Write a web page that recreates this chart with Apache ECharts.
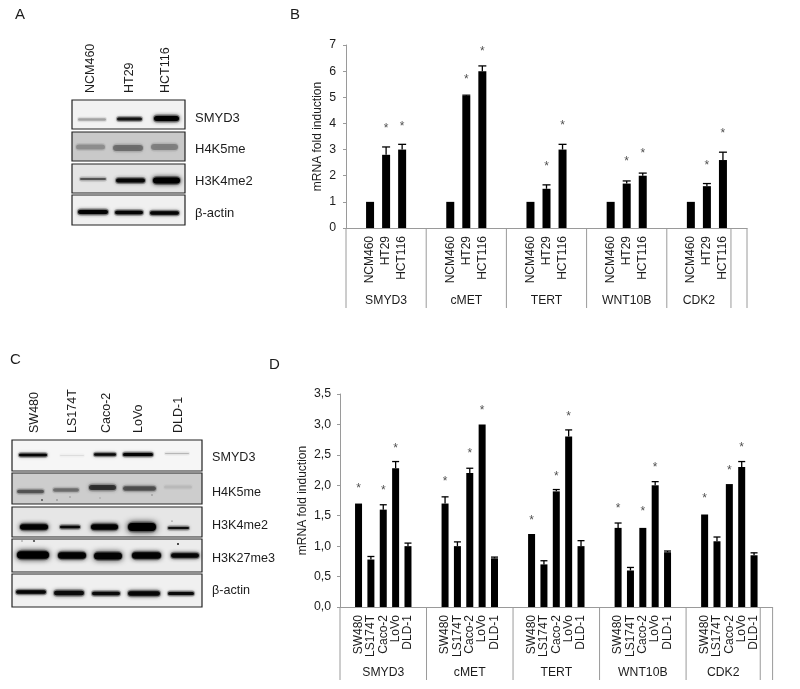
<!DOCTYPE html>
<html><head><meta charset="utf-8">
<style>html,body{margin:0;padding:0;background:#fff}#c{width:800px;height:689px;filter:blur(0.45px)}</style>
<script src="https://cdn.jsdelivr.net/npm/echarts@6/dist/echarts.min.js"></script>
</head><body><div id="c"></div>
<script>
// ---- data: panel B
const geneGroups = ['SMYD3','cMET','TERT','WNT10B','CDK2'];
const linesB = ['NCM460','HT29','HCT116'];
const valuesB = [[1,2.8,3.0],[1,5.05,6.0],[1,1.5,3.0],[1,1.7,2.0],[1,1.6,2.6]];
const errorsB = [[0,0.3,0.2],[0,0.03,0.2],[0,0.15,0.2],[0,0.1,0.1],[0,0.1,0.3]];
const starsB  = [[null,3.85,3.92],[null,5.73,6.8],[null,2.38,3.97],[null,2.57,2.89],[null,2.43,3.63]];
// ---- data: panel D
const linesD = ['SW480','LS174T','Caco-2','LoVo','DLD-1'];
const valuesD = [[1.7,0.78,1.6,2.28,1.0],[1.7,1.0,2.2,3.0,0.8],[1.2,0.7,1.9,2.8,1.0],[1.3,0.6,1.3,2.0,0.9],[1.52,1.08,2.02,2.3,0.85]];
const errorsD = [[0,0.05,0.08,0.11,0.05],[0.11,0.07,0.08,0,0.02],[0,0.06,0.03,0.11,0.09],[0.08,0.05,0,0.06,0.02],[0,0.07,0,0.09,0.04]];
const starsD  = [[1.97,null,1.95,2.64,null],[2.09,null,2.55,3.26,null],[1.45,null,2.18,3.16,null],[1.65,null,1.6,2.33,null],[1.81,null,2.28,2.65,null]];
// ---- blot labels and relative band darkness
const blotRowsA = ['SMYD3','H4K5me','H3K4me2','β-actin'];
const darkA = [[0.25,0.8,0.97],[0.22,0.34,0.27],[0.5,0.92,1],[0.95,0.92,0.92]];
const blotRowsC = ['SMYD3','H4K5me','H3K4me2','H3K27me3','β-actin'];
const darkC = [[0.95,0.08,0.9,0.95,0.2],[0.45,0.35,0.62,0.48,0.07],[0.97,0.9,0.97,1,0.88],[1,0.95,0.95,0.95,0.92],[0.92,0.88,0.88,0.92,0.88]];

const FONT = '"Liberation Sans", Arial, sans-serif';
const TXT = '#1c1c1c', AX = '#9a9a9a';

// builds the slot categories: one blank, the lines, one blank; the last group has no trailing blank before its closing slot
function buildSlots(lines, vals, errs, stars){
  const cats=[],bars=[],er=[],st=[],bounds=[0];
  vals.forEach((g,gi)=>{
    cats.push('');bars.push(null);
    lines.forEach((l,li)=>{
      const i=cats.length;
      cats.push(l);bars.push(g[li]);
      if(errs[gi][li]>0) er.push([i,g[li],g[li]+errs[gi][li]]);
      if(stars[gi][li]!=null) st.push([i,stars[gi][li]]);
    });
    bounds.push(gi<vals.length-1 ? (cats.push(''),bars.push(null),cats.length) : cats.length);
  });
  cats.push('');bars.push(null);bounds.push(cats.length);
  return {cats,bars,er,st,bounds};
}
const B=buildSlots(linesB,valuesB,errorsB,starsB);
const D=buildSlots(linesD,valuesD,errorsD,starsD);

function seriesFor(S,idx,barW,capW,sepLen,labY,starOff){
  const cfg={xAxisIndex:idx,yAxisIndex:idx};
  return [
    {...cfg,type:'bar',data:S.bars,barWidth:barW,itemStyle:{color:'#000'},silent:true},
    {...cfg,type:'custom',data:S.er,clip:false,encode:{x:0,y:[1,2]},z:4,silent:true,
      renderItem(p,api){
        const a=api.coord([api.value(0),api.value(1)]),b=api.coord([api.value(0),api.value(2)]);
        const st={stroke:'#000',lineWidth:1.3};
        return {type:'group',children:[
          {type:'line',shape:{x1:a[0],y1:a[1],x2:b[0],y2:b[1]},style:st},
          {type:'line',shape:{x1:a[0]-capW/2,y1:b[1],x2:a[0]+capW/2,y2:b[1]},style:st}]};
      }},
    {...cfg,type:'scatter',data:S.st,symbolSize:1,itemStyle:{color:'transparent'},z:5,silent:true,
      label:{show:true,position:'inside',formatter:'*',fontSize:12,fontFamily:FONT,color:'#222',offset:[0,starOff]}},
    {...cfg,type:'custom',data:S.bounds.map((b,i)=>[i,0]),clip:false,encode:{x:0,y:1},z:3,silent:true,
      renderItem(p,api){
        const i=p.dataIndex,w=api.size([1,0])[0],o=api.coord([0,0]);
        const xAt=b=>o[0]+b*w-w/2;
        const x=xAt(S.bounds[i]);
        const kids=[{type:'line',shape:{x1:x,y1:o[1],x2:x,y2:o[1]+sepLen},style:{stroke:AX,lineWidth:1}}];
        if(i<geneGroups.length){
          kids.push({type:'text',x:(x+xAt(S.bounds[i+1]))/2,y:o[1]+labY,
            style:{text:geneGroups[i],font:'12.2px '+FONT,fill:TXT,textAlign:'center',textVerticalAlign:'middle'}});
        }
        return {type:'group',children:kids};
      }}
  ];
}

function xAxisFor(S,idx,margin){
  return {gridIndex:idx,type:'category',data:S.cats,
    axisLine:{lineStyle:{color:AX,width:1},onZero:false},axisTick:{show:false},splitLine:{show:false},
    axisLabel:{interval:0,rotate:90,margin,fontSize:12,fontFamily:FONT,color:TXT,hideOverlap:false,padding:[6,0,0,0]}};
}
function yAxisFor(idx,max,step,gap,margin,fmt){
  return {gridIndex:idx,type:'value',min:0,max,interval:step,name:'mRNA fold induction',nameLocation:'middle',nameGap:gap,nameMoveOverlap:false,
    nameTextStyle:{fontSize:12,fontFamily:FONT,color:TXT},
    axisLine:{show:true,lineStyle:{color:AX,width:1}},axisTick:{show:true,length:3,lineStyle:{color:AX}},splitLine:{show:false},
    axisLabel:{margin,fontSize:12.3,fontFamily:FONT,color:TXT,formatter:fmt}};
}

// ---- western blots, drawn as graphics
function text(t,x,y,size,extra){
  return {type:'text',x,y,rotation:(extra&&extra.rot)||0,silent:true,
    style:{text:t,font:size+'px '+FONT,fill:TXT,textAlign:'left',textVerticalAlign:'middle'}};
}
function band(x1,x2,cy,h,d){
  const c='rgba(0,0,0,'+d+')', hc='rgba(0,0,0,'+(d*0.3)+')', H=h+3;
  return [
    {type:'rect',silent:true,shape:{x:x1-1,y:cy-H/2,width:x2-x1+2,height:H,r:H/2},
      style:{fill:hc,shadowBlur:4,shadowColor:hc}},
    {type:'rect',silent:true,shape:{x:x1,y:cy-h/2,width:x2-x1,height:h,r:h/2},
      style:{fill:c,shadowBlur:Math.max(3,h*0.9),shadowColor:c}}];
}
function dot(x,y,r,d){return {type:'circle',silent:true,shape:{cx:x,cy:y,r},style:{fill:'rgba(0,0,0,'+d+')'}};}
const g=[];
[['A',15,15],['B',290,15],['C',10,360],['D',269,365]].forEach(l=>g.push(text(l[0],l[1],l[2],15)));

// panel A layout
const panA=[[100,129,'#f2f2f2'],[132,161,'#c9c9c9'],[164,193,'#e4e4e4'],[195,225,'#f0f0f0']];
const lanesA=[
 [[78,106,119.5,2.5],[117,142,119,3],[154,179,118.5,5]],
 [[76,105,147,5],[113,143,148,6],[151,178,147,6]],
 [[80,106,179,2],[116,145,180.5,4],[153,180,180.5,6]],
 [[78,108,212,4],[115,143,212.5,3.5],[150,179,213,3.5]]];
panA.forEach((p,r)=>{
  g.push({type:'rect',silent:true,shape:{x:72,y:p[0],width:113,height:p[1]-p[0]},style:{fill:p[2],stroke:'#222',lineWidth:1.2}});
  lanesA[r].forEach((b,i)=>g.push(...band(b[0],b[1],b[2],b[3],darkA[r][i])));
  g.push(text(blotRowsA[r],195,[118,149,181,213][r],13));
});
linesB.forEach((l,i)=>g.push(text(l,[91,130,166][i],93,12.5,{rot:Math.PI/2})));

// panel C layout
const panC=[[440,471,'#f6f6f6'],[473,504,'#cdcdcd'],[507,537,'#e6e6e6'],[539,572,'#ececec'],[574,607,'#f0f0f0']];
const lanesC=[
 [[19,47,455,2.5],[60,84,455.5,1],[94,116,454.5,2.5],[123,153,454.5,3],[165,189,453.5,1]],
 [[17,44,491.5,3.5],[53,79,490,3.5],[89,116,487.5,5],[123,156,488.5,4.5],[164,192,487,3]],
 [[20,48,527,5.5],[60,80,527,2.5],[91,118,527,5.5],[128,156,527,8],[168,189,528,2]],
 [[17,49,555,7.5],[58,86,555.5,6.5],[94,122,556,7],[132,161,555.5,6.5],[171,199,555.5,4.5]],
 [[16,46,592,3.5],[54,84,593,4.5],[92,120,593.5,3.5],[128,160,593.5,4.5],[168,194,593.5,3]]];
panC.forEach((p,r)=>{
  g.push({type:'rect',silent:true,shape:{x:12,y:p[0],width:190,height:p[1]-p[0]},style:{fill:p[2],stroke:'#222',lineWidth:1.2}});
  lanesC[r].forEach((b,i)=>g.push(...band(b[0],b[1],b[2],b[3],darkC[r][i])));
  g.push(text(blotRowsC[r],212,[458,492.5,525.5,558.5,591][r],12.6));
});
[[42,500,1,.6],[57,500,.8,.4],[70,497,.8,.3],[100,498,.7,.25],[152,495,.8,.35],[172,521,.6,.7],
 [22,541,.7,.5],[34,541,1.1,.7],[178,544,1,.9]].forEach(d=>g.push(dot(d[0],d[1],d[2],d[3])));
linesD.forEach((l,i)=>g.push(text(l,[35,73,107,139,179][i],433,12.5,{rot:Math.PI/2})));

const option={
  animation:false,backgroundColor:'#fff',textStyle:{fontFamily:FONT},
  grid:[{left:346,top:45,width:401,height:183,containLabel:false},{left:340,top:394,width:432.6,height:213,containLabel:false}],
  xAxis:[xAxisFor(B,0,8),xAxisFor(D,1,8)],
  yAxis:[yAxisFor(0,7,1,22,10,v=>String(v)),yAxisFor(1,3.5,0.5,31,9,v=>v.toFixed(1).replace('.',','))],
  series:[...seriesFor(B,0,8,8,80,73,1),...seriesFor(D,1,7,7,73,66,2)],
  graphic:g
};
echarts.init(document.getElementById('c'),null,{renderer:'canvas'}).setOption(option);
</script></body></html>
